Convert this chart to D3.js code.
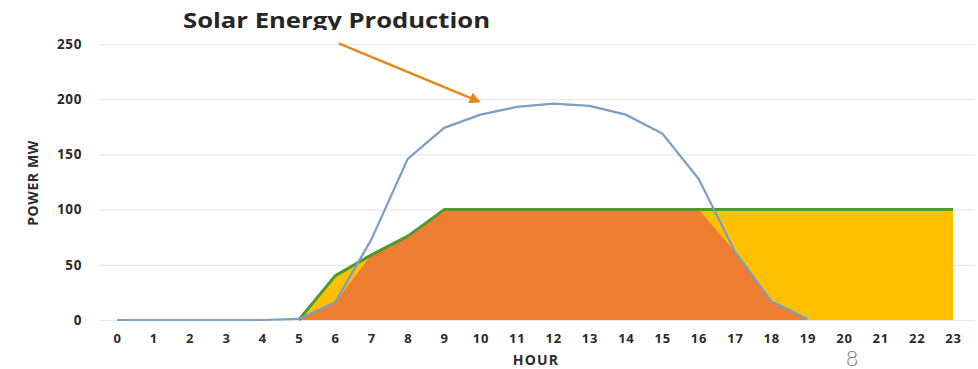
<!DOCTYPE html>
<html>
<head>
<meta charset="utf-8">
<script src="https://cdn.jsdelivr.net/npm/d3@7"></script>
<style>
  html, body { margin: 0; padding: 0; background: #fff; }
  svg { display: block; font-family: "Open Sans", "DejaVu Sans", sans-serif; }
</style>
</head>
<body>
<svg id="chart" width="978" height="369"></svg>
<script>
// Hours of the day
const hours = d3.range(0, 24);
const hourLabels = hours.map(String);

// Solar generation (MW) by hour, sunrise to sunset
const solar = [0, 0, 0, 0, 0, 1, 16, 73, 146, 174, 186, 193, 196, 194, 186, 169, 128, 62, 17, 1, null, null, null, null];

// Load served (MW) – the green envelope, filled in yellow
const load = [null, null, null, null, null, 0, 40, 59, 76, 100, 100, 100, 100, 100, 100, 100, 100, 100, 100, 100, 100, 100, 100, 100];

// Portion of the load met by solar (MW) – orange fill
const solarServed = [null, null, null, null, null, 0, 16, 59, 76, 100, 100, 100, 100, 100, 100, 100, 100, 62, 17, 0, null, null, null, null];

// Y axis ticks
const yTicks = [0, 50, 100, 150, 200, 250];

// Annotation arrow: from (hour, MW) to (hour, MW)
const arrowFrom = [6.1, 250.5];
const arrowTo = [9.95, 198];

const svg = d3.select("#chart");

const x = d3.scaleLinear().domain([0, 23]).range([117, 953]);
const y = d3.scaleLinear().domain([0, 250]).range([320, 44]);

// Grid + y labels
const yAxis = d3.axisLeft(y)
  .tickValues(yTicks)
  .tickSizeInner(-875)
  .tickSizeOuter(0)
  .tickPadding(18);

const gy = svg.append("g")
  .attr("transform", "translate(100,0)")
  .call(yAxis);
gy.select(".domain").remove();
gy.selectAll(".tick line").attr("stroke", "#e8e8e8").attr("stroke-width", 1.2);
gy.selectAll(".tick text")
  .attr("fill", "#2b2b2b")
  .attr("font-size", 13.5)
  .attr("font-weight", 700)
  .attr("letter-spacing", 0.6)
  .attr("font-family", "'Open Sans', sans-serif");

// X labels
const xAxis = d3.axisBottom(x)
  .tickValues(hours)
  .tickFormat((d, i) => hourLabels[i])
  .tickSize(0)
  .tickPadding(14);

const gx = svg.append("g")
  .attr("transform", "translate(0,320)")
  .call(xAxis);
gx.select(".domain").remove();
gx.selectAll(".tick text")
  .attr("fill", "#2b2b2b")
  .attr("font-size", 13)
  .attr("font-weight", 700)
  .attr("letter-spacing", 0.8)
  .attr("font-family", "'Open Sans', sans-serif");

// Load area (yellow) under the green line
const loadArea = d3.area()
  .defined((d, i) => load[i] != null)
  .x((d, i) => x(hours[i]))
  .y0(y(0))
  .y1((d, i) => y(load[i]));

svg.append("path")
  .datum(load)
  .attr("d", loadArea)
  .attr("fill", "#FFC000");

// Solar-served area (orange)
const servedArea = d3.area()
  .defined((d, i) => solarServed[i] != null)
  .x((d, i) => x(hours[i]))
  .y0(y(0))
  .y1((d, i) => y(solarServed[i]));

svg.append("path")
  .datum(solarServed)
  .attr("d", servedArea)
  .attr("fill", "#ED7D31");

// Load line (green)
const loadLine = d3.line()
  .defined((d, i) => load[i] != null)
  .x((d, i) => x(hours[i]))
  .y((d, i) => y(load[i]));

svg.append("path")
  .datum(load)
  .attr("d", loadLine)
  .attr("fill", "none")
  .attr("stroke", "#4E9A2E")
  .attr("stroke-width", 3)
  .attr("stroke-linejoin", "round");

// Solar production line (blue)
const solarLine = d3.line()
  .defined((d, i) => solar[i] != null)
  .x((d, i) => x(hours[i]))
  .y((d, i) => y(solar[i]));

svg.append("path")
  .datum(solar)
  .attr("d", solarLine)
  .attr("fill", "none")
  .attr("stroke", "#7A9EC4")
  .attr("stroke-width", 2.2)
  .attr("stroke-linejoin", "round");

// Axis titles
svg.append("text")
  .attr("transform", "translate(38,183) rotate(-90)")
  .attr("text-anchor", "middle")
  .attr("font-size", 14)
  .attr("font-weight", 700)
  .attr("letter-spacing", 0.6)
  .attr("fill", "#2b2b2b")
  .text("POWER MW");

svg.append("text")
  .attr("x", 536)
  .attr("y", 365)
  .attr("text-anchor", "middle")
  .attr("font-size", 14)
  .attr("font-weight", 700)
  .attr("letter-spacing", 1.2)
  .attr("fill", "#2b2b2b")
  .text("HOUR");

// Title, cropped along its lower edge
svg.append("clipPath").attr("id", "titleClip")
  .append("rect").attr("x", 0).attr("y", 0).attr("width", 978).attr("height", 30);

svg.append("text")
  .attr("clip-path", "url(#titleClip)")
  .attr("x", 183)
  .attr("y", 28)
  .attr("font-size", 21.5)
  .attr("font-weight", 700)
  .attr("textLength", 307)
  .attr("lengthAdjust", "spacingAndGlyphs")
  .attr("fill", "#262626")
  .text("Solar Energy Production");

// Annotation arrow pointing at the solar curve
const defs = svg.append("defs");
defs.append("marker")
  .attr("id", "arrowHead")
  .attr("viewBox", "0 0 10 10")
  .attr("refX", 8)
  .attr("refY", 5)
  .attr("markerWidth", 4.5)
  .attr("markerHeight", 4.5)
  .attr("orient", "auto")
  .append("path")
  .attr("d", "M0,0 L10,5 L0,10 z")
  .attr("fill", "#E8861E");

svg.append("line")
  .attr("x1", x(arrowFrom[0]))
  .attr("y1", y(arrowFrom[1]))
  .attr("x2", x(arrowTo[0]))
  .attr("y2", y(arrowTo[1]))
  .attr("stroke", "#E8861E")
  .attr("stroke-width", 2.5)
  .attr("marker-end", "url(#arrowHead)");

// Page number
svg.append("text")
  .attr("x", 852)
  .attr("y", 366)
  .attr("text-anchor", "middle")
  .attr("font-size", 21)
  .attr("font-weight", 300)
  .attr("font-family", "Lato, 'Open Sans', sans-serif")
  .attr("fill", "#7a7a7a")
  .text("8");
</script>
</body>
</html>
